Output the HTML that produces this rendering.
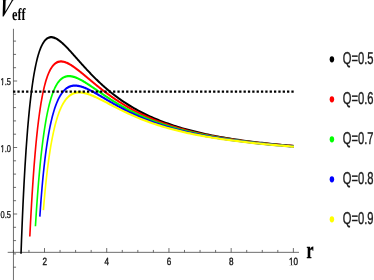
<!DOCTYPE html>
<html><head><meta charset="utf-8"><title>Veff</title>
<style>html,body{margin:0;padding:0;background:#fff;width:374px;height:280px;overflow:hidden;font-family:"Liberation Sans",sans-serif}</style>
</head><body>
<svg width="374" height="280" viewBox="0 0 374 280" style="position:absolute;left:0;top:0;will-change:transform">
<rect width="374" height="280" fill="#fff"/>
<g transform="scale(0.72 1)">
<g stroke="#3a3a3a" stroke-width="0.85" fill="none">
<path d="M18.68 28.8V280M10.69 252.35H415.28"/>
<path d="M18.68 267.20h3.61M18.68 253.90h3.61M18.68 240.60h3.61M18.68 227.30h3.61M18.68 214.00h5.14M18.68 200.70h3.61M18.68 187.40h3.61M18.68 174.10h3.61M18.68 160.80h3.61M18.68 147.50h5.14M18.68 134.20h3.61M18.68 120.90h3.61M18.68 107.60h3.61M18.68 94.30h3.61M18.68 81.00h5.14M18.68 67.70h3.61M18.68 54.40h3.61M18.68 41.10h3.61M18.60 252.35v-2.4M40.20 252.35v-2.4M61.81 252.35v-4.3M83.41 252.35v-2.4M105.01 252.35v-2.4M126.62 252.35v-2.4M148.22 252.35v-4.3M169.83 252.35v-2.4M191.43 252.35v-2.4M213.03 252.35v-2.4M234.64 252.35v-4.3M256.24 252.35v-2.4M277.85 252.35v-2.4M299.45 252.35v-2.4M321.06 252.35v-4.3M342.66 252.35v-2.4M364.26 252.35v-2.4M385.87 252.35v-2.4M407.47 252.35v-4.3"/>
</g>
<path d="M29.19 253.75 L29.86 240.52 L30.56 227.69 L31.25 215.74 L31.94 204.58 L32.64 194.15 L33.33 184.39 L34.03 175.24 L34.72 166.64 L35.42 158.57 L36.11 150.97 L36.81 143.82 L37.50 137.08 L38.19 130.73 L38.89 124.74 L39.58 119.09 L40.28 113.76 L40.97 108.72 L41.67 103.96 L42.36 99.47 L43.06 95.23 L43.75 91.23 L44.44 87.44 L45.14 83.88 L45.83 80.51 L46.53 77.33 L47.22 74.33 L47.92 71.51 L48.61 68.85 L49.31 66.34 L50.00 63.99 L50.69 61.77 L51.39 59.69 L52.08 57.74 L52.78 55.91 L53.47 54.20 L54.17 52.59 L54.86 51.10 L55.56 49.70 L56.25 48.40 L56.94 47.20 L57.64 46.08 L58.33 45.05 L59.03 44.09 L59.72 43.22 L60.42 42.41 L61.11 41.68 L61.81 41.01 L62.50 40.41 L63.19 39.87 L63.89 39.38 L64.58 38.95 L65.28 38.58 L65.97 38.25 L66.67 37.97 L67.36 37.74 L68.06 37.55 L68.75 37.41 L69.44 37.30 L70.14 37.23 L70.83 37.20 L71.53 37.20 L72.22 37.24 L72.92 37.30 L73.61 37.40 L74.31 37.52 L75.00 37.67 L75.69 37.85 L76.39 38.05 L77.08 38.28 L77.78 38.52 L78.47 38.79 L79.17 39.08 L79.86 39.38 L80.56 39.71 L81.25 40.05 L81.94 40.40 L82.64 40.78 L83.33 41.16 L84.03 41.56 L84.72 41.97 L85.42 42.40 L86.11 42.83 L86.81 43.28 L87.50 43.74 L88.19 44.20 L88.89 44.68 L89.58 45.16 L90.28 45.65 L90.97 46.15 L91.67 46.65 L92.36 47.16 L93.06 47.68 L93.75 48.20 L94.44 48.73 L95.14 49.26 L95.83 49.80 L96.53 50.34 L97.22 50.89 L97.92 51.43 L98.61 51.98 L99.31 52.54 L100.00 53.09 L100.69 53.65 L101.39 54.21 L102.08 54.77 L102.78 55.33 L103.47 55.89 L104.17 56.45 L104.86 57.02 L105.56 57.58 L106.25 58.15 L106.94 58.71 L107.64 59.28 L108.33 59.84 L109.03 60.41 L109.72 60.97 L110.42 61.53 L111.11 62.09 L111.81 62.65 L112.50 63.21 L113.19 63.77 L113.89 64.33 L114.58 64.89 L115.28 65.44 L115.97 65.99 L116.67 66.54 L117.36 67.09 L118.06 67.64 L118.75 68.18 L119.44 68.73 L120.14 69.27 L120.83 69.81 L121.53 70.34 L122.22 70.88 L122.92 71.41 L123.61 71.94 L124.31 72.46 L125.00 72.99 L125.69 73.51 L126.39 74.03 L127.08 74.55 L127.78 75.06 L128.47 75.57 L129.17 76.08 L129.86 76.58 L130.56 77.09 L131.25 77.59 L131.94 78.08 L132.64 78.58 L133.33 79.07 L134.03 79.56 L134.72 80.04 L135.42 80.53 L136.11 81.01 L136.81 81.48 L137.50 81.96 L138.19 82.43 L138.89 82.90 L139.58 83.36 L140.28 83.83 L140.97 84.29 L141.67 84.74 L142.36 85.20 L143.06 85.65 L143.75 86.09 L144.44 86.54 L145.14 86.98 L145.83 87.42 L146.53 87.86 L147.22 88.29 L147.92 88.72 L148.61 89.15 L149.31 89.57 L150.00 89.99 L150.69 90.41 L151.39 90.83 L152.08 91.24 L152.78 91.65 L153.47 92.05 L154.17 92.46 L154.86 92.86 L155.56 93.26 L156.25 93.65 L156.94 94.05 L157.64 94.44 L158.33 94.83 L159.03 95.21 L159.72 95.59 L160.42 95.97 L161.11 96.35 L161.81 96.72 L162.50 97.09 L163.19 97.46 L163.89 97.83 L164.58 98.19 L165.28 98.55 L165.97 98.91 L166.67 99.26 L169.44 100.66 L172.22 102.02 L175.00 103.33 L177.78 104.61 L180.56 105.85 L183.33 107.06 L186.11 108.23 L188.89 109.37 L191.67 110.47 L194.44 111.54 L197.22 112.58 L200.00 113.59 L202.78 114.58 L205.56 115.53 L208.33 116.46 L211.11 117.36 L213.89 118.24 L216.67 119.09 L219.44 119.91 L222.22 120.72 L225.00 121.50 L227.78 122.26 L230.56 123.00 L233.33 123.71 L236.11 124.41 L238.89 125.09 L241.67 125.75 L244.44 126.40 L247.22 127.02 L250.00 127.63 L252.78 128.23 L255.56 128.80 L258.33 129.37 L261.11 129.91 L263.89 130.45 L266.67 130.97 L269.44 131.47 L272.22 131.97 L275.00 132.45 L277.78 132.92 L280.56 133.37 L283.33 133.82 L286.11 134.25 L288.89 134.68 L291.67 135.09 L294.44 135.49 L297.22 135.89 L300.00 136.27 L302.78 136.64 L305.56 137.01 L308.33 137.36 L311.11 137.71 L313.89 138.05 L316.67 138.38 L319.44 138.71 L322.22 139.02 L325.00 139.33 L327.78 139.64 L330.56 139.93 L333.33 140.22 L336.11 140.50 L338.89 140.77 L341.67 141.04 L344.44 141.31 L347.22 141.56 L350.00 141.82 L352.78 142.06 L355.56 142.30 L358.33 142.54 L361.11 142.77 L363.89 142.99 L366.67 143.21 L369.44 143.43 L372.22 143.64 L375.00 143.85 L377.78 144.05 L380.56 144.25 L383.33 144.44 L386.11 144.63 L388.89 144.81 L391.67 145.00 L394.44 145.17 L397.22 145.35 L400.00 145.52 L402.78 145.69 L405.56 145.85 L408.33 146.01" stroke="#000000" stroke-width="2.25" fill="none" stroke-linejoin="round"/>
<path d="M41.42 236.52 L41.67 232.84 L42.36 222.99 L43.06 213.67 L43.75 204.83 L44.44 196.47 L45.14 188.55 L45.83 181.05 L46.53 173.95 L47.22 167.22 L47.92 160.86 L48.61 154.83 L49.31 149.12 L50.00 143.71 L50.69 138.59 L51.39 133.75 L52.08 129.16 L52.78 124.83 L53.47 120.72 L54.17 116.84 L54.86 113.17 L55.56 109.70 L56.25 106.42 L56.94 103.32 L57.64 100.39 L58.33 97.63 L59.03 95.03 L59.72 92.57 L60.42 90.25 L61.11 88.06 L61.81 86.01 L62.50 84.07 L63.19 82.25 L63.89 80.54 L64.58 78.94 L65.28 77.43 L65.97 76.02 L66.67 74.70 L67.36 73.46 L68.06 72.31 L68.75 71.24 L69.44 70.24 L70.14 69.31 L70.83 68.45 L71.53 67.65 L72.22 66.92 L72.92 66.24 L73.61 65.62 L74.31 65.05 L75.00 64.54 L75.69 64.07 L76.39 63.64 L77.08 63.27 L77.78 62.93 L78.47 62.63 L79.17 62.37 L79.86 62.15 L80.56 61.96 L81.25 61.81 L81.94 61.68 L82.64 61.59 L83.33 61.52 L84.03 61.48 L84.72 61.47 L85.42 61.48 L86.11 61.52 L86.81 61.58 L87.50 61.65 L88.19 61.75 L88.89 61.87 L89.58 62.01 L90.28 62.16 L90.97 62.33 L91.67 62.51 L92.36 62.71 L93.06 62.93 L93.75 63.16 L94.44 63.40 L95.14 63.65 L95.83 63.91 L96.53 64.19 L97.22 64.47 L97.92 64.77 L98.61 65.07 L99.31 65.38 L100.00 65.70 L100.69 66.03 L101.39 66.37 L102.08 66.71 L102.78 67.06 L103.47 67.41 L104.17 67.77 L104.86 68.14 L105.56 68.51 L106.25 68.89 L106.94 69.27 L107.64 69.65 L108.33 70.04 L109.03 70.43 L109.72 70.82 L110.42 71.22 L111.11 71.62 L111.81 72.02 L112.50 72.43 L113.19 72.84 L113.89 73.24 L114.58 73.65 L115.28 74.07 L115.97 74.48 L116.67 74.89 L117.36 75.31 L118.06 75.73 L118.75 76.14 L119.44 76.56 L120.14 76.98 L120.83 77.40 L121.53 77.81 L122.22 78.23 L122.92 78.65 L123.61 79.07 L124.31 79.49 L125.00 79.90 L125.69 80.32 L126.39 80.74 L127.08 81.15 L127.78 81.57 L128.47 81.98 L129.17 82.39 L129.86 82.81 L130.56 83.22 L131.25 83.63 L131.94 84.04 L132.64 84.45 L133.33 84.85 L134.03 85.26 L134.72 85.66 L135.42 86.06 L136.11 86.47 L136.81 86.87 L137.50 87.26 L138.19 87.66 L138.89 88.05 L139.58 88.45 L140.28 88.84 L140.97 89.23 L141.67 89.62 L142.36 90.00 L143.06 90.39 L143.75 90.77 L144.44 91.15 L145.14 91.53 L145.83 91.91 L146.53 92.29 L147.22 92.66 L147.92 93.03 L148.61 93.40 L149.31 93.77 L150.00 94.14 L150.69 94.50 L151.39 94.86 L152.08 95.22 L152.78 95.58 L153.47 95.94 L154.17 96.29 L154.86 96.64 L155.56 96.99 L156.25 97.34 L156.94 97.69 L157.64 98.03 L158.33 98.37 L159.03 98.71 L159.72 99.05 L160.42 99.39 L161.11 99.72 L161.81 100.05 L162.50 100.38 L163.19 100.71 L163.89 101.04 L164.58 101.36 L165.28 101.68 L165.97 102.01 L166.67 102.32 L169.44 103.58 L172.22 104.80 L175.00 105.99 L177.78 107.15 L180.56 108.28 L183.33 109.38 L186.11 110.45 L188.89 111.50 L191.67 112.51 L194.44 113.50 L197.22 114.47 L200.00 115.40 L202.78 116.32 L205.56 117.20 L208.33 118.07 L211.11 118.91 L213.89 119.73 L216.67 120.53 L219.44 121.30 L222.22 122.06 L225.00 122.79 L227.78 123.51 L230.56 124.21 L233.33 124.89 L236.11 125.55 L238.89 126.19 L241.67 126.82 L244.44 127.43 L247.22 128.02 L250.00 128.60 L252.78 129.17 L255.56 129.72 L258.33 130.25 L261.11 130.78 L263.89 131.29 L266.67 131.78 L269.44 132.27 L272.22 132.74 L275.00 133.20 L277.78 133.64 L280.56 134.08 L283.33 134.51 L286.11 134.92 L288.89 135.33 L291.67 135.72 L294.44 136.11 L297.22 136.48 L300.00 136.85 L302.78 137.21 L305.56 137.56 L308.33 137.90 L311.11 138.23 L313.89 138.56 L316.67 138.88 L319.44 139.19 L322.22 139.49 L325.00 139.78 L327.78 140.07 L330.56 140.35 L333.33 140.63 L336.11 140.90 L338.89 141.16 L341.67 141.42 L344.44 141.67 L347.22 141.91 L350.00 142.15 L352.78 142.39 L355.56 142.62 L358.33 142.84 L361.11 143.06 L363.89 143.27 L366.67 143.48 L369.44 143.68 L372.22 143.88 L375.00 144.08 L377.78 144.27 L380.56 144.46 L383.33 144.64 L386.11 144.82 L388.89 144.99 L391.67 145.17 L394.44 145.33 L397.22 145.50 L400.00 145.66 L402.78 145.81 L405.56 145.97 L408.33 146.12" stroke="#ff0000" stroke-width="2.25" fill="none" stroke-linejoin="round"/>
<path d="M49.22 226.24 L50.00 217.22 L50.69 209.61 L51.39 202.40 L52.08 195.56 L52.78 189.07 L53.47 182.91 L54.17 177.06 L54.86 171.51 L55.56 166.23 L56.25 161.22 L56.94 156.45 L57.64 151.93 L58.33 147.63 L59.03 143.54 L59.72 139.65 L60.42 135.96 L61.11 132.44 L61.81 129.11 L62.50 125.93 L63.19 122.92 L63.89 120.05 L64.58 117.33 L65.28 114.75 L65.97 112.30 L66.67 109.97 L67.36 107.76 L68.06 105.66 L68.75 103.67 L69.44 101.79 L70.14 100.00 L70.83 98.31 L71.53 96.71 L72.22 95.20 L72.92 93.77 L73.61 92.42 L74.31 91.14 L75.00 89.94 L75.69 88.80 L76.39 87.74 L77.08 86.74 L77.78 85.79 L78.47 84.91 L79.17 84.08 L79.86 83.31 L80.56 82.59 L81.25 81.91 L81.94 81.29 L82.64 80.71 L83.33 80.17 L84.03 79.67 L84.72 79.21 L85.42 78.80 L86.11 78.41 L86.81 78.07 L87.50 77.75 L88.19 77.47 L88.89 77.22 L89.58 76.99 L90.28 76.80 L90.97 76.63 L91.67 76.49 L92.36 76.37 L93.06 76.28 L93.75 76.21 L94.44 76.16 L95.14 76.13 L95.83 76.12 L96.53 76.13 L97.22 76.16 L97.92 76.20 L98.61 76.26 L99.31 76.34 L100.00 76.43 L100.69 76.54 L101.39 76.66 L102.08 76.79 L102.78 76.94 L103.47 77.09 L104.17 77.26 L104.86 77.44 L105.56 77.63 L106.25 77.83 L106.94 78.04 L107.64 78.26 L108.33 78.48 L109.03 78.72 L109.72 78.96 L110.42 79.21 L111.11 79.46 L111.81 79.72 L112.50 79.99 L113.19 80.27 L113.89 80.55 L114.58 80.83 L115.28 81.12 L115.97 81.41 L116.67 81.71 L117.36 82.01 L118.06 82.32 L118.75 82.63 L119.44 82.94 L120.14 83.26 L120.83 83.58 L121.53 83.90 L122.22 84.22 L122.92 84.55 L123.61 84.88 L124.31 85.21 L125.00 85.54 L125.69 85.88 L126.39 86.21 L127.08 86.55 L127.78 86.89 L128.47 87.23 L129.17 87.57 L129.86 87.91 L130.56 88.25 L131.25 88.59 L131.94 88.93 L132.64 89.27 L133.33 89.62 L134.03 89.96 L134.72 90.30 L135.42 90.65 L136.11 90.99 L136.81 91.33 L137.50 91.67 L138.19 92.02 L138.89 92.36 L139.58 92.70 L140.28 93.04 L140.97 93.38 L141.67 93.72 L142.36 94.06 L143.06 94.39 L143.75 94.73 L144.44 95.07 L145.14 95.40 L145.83 95.74 L146.53 96.07 L147.22 96.40 L147.92 96.73 L148.61 97.06 L149.31 97.39 L150.00 97.72 L150.69 98.04 L151.39 98.37 L152.08 98.69 L152.78 99.01 L153.47 99.33 L154.17 99.65 L154.86 99.97 L155.56 100.29 L156.25 100.60 L156.94 100.91 L157.64 101.23 L158.33 101.54 L159.03 101.84 L159.72 102.15 L160.42 102.46 L161.11 102.76 L161.81 103.06 L162.50 103.37 L163.19 103.66 L163.89 103.96 L164.58 104.26 L165.28 104.55 L165.97 104.85 L166.67 105.14 L169.44 106.29 L172.22 107.41 L175.00 108.51 L177.78 109.58 L180.56 110.62 L183.33 111.64 L186.11 112.64 L188.89 113.60 L191.67 114.55 L194.44 115.47 L197.22 116.36 L200.00 117.23 L202.78 118.08 L205.56 118.91 L208.33 119.72 L211.11 120.50 L213.89 121.26 L216.67 122.01 L219.44 122.73 L222.22 123.43 L225.00 124.12 L227.78 124.79 L230.56 125.44 L233.33 126.07 L236.11 126.69 L238.89 127.29 L241.67 127.88 L244.44 128.45 L247.22 129.00 L250.00 129.55 L252.78 130.07 L255.56 130.59 L258.33 131.09 L261.11 131.58 L263.89 132.06 L266.67 132.52 L269.44 132.98 L272.22 133.42 L275.00 133.85 L277.78 134.27 L280.56 134.68 L283.33 135.08 L286.11 135.48 L288.89 135.86 L291.67 136.23 L294.44 136.60 L297.22 136.95 L300.00 137.30 L302.78 137.64 L305.56 137.97 L308.33 138.30 L311.11 138.62 L313.89 138.93 L316.67 139.23 L319.44 139.53 L322.22 139.82 L325.00 140.10 L327.78 140.38 L330.56 140.65 L333.33 140.92 L336.11 141.18 L338.89 141.43 L341.67 141.68 L344.44 141.93 L347.22 142.17 L350.00 142.40 L352.78 142.63 L355.56 142.86 L358.33 143.08 L361.11 143.30 L363.89 143.51 L366.67 143.72 L369.44 143.92 L372.22 144.12 L375.00 144.31 L377.78 144.51 L380.56 144.70 L383.33 144.88 L386.11 145.06 L388.89 145.24 L391.67 145.42 L394.44 145.59 L397.22 145.76 L400.00 145.92 L402.78 146.08 L405.56 146.24 L408.33 146.40" stroke="#00ff00" stroke-width="2.25" fill="none" stroke-linejoin="round"/>
<path d="M55.33 216.61 L55.56 214.22 L56.25 207.07 L56.94 200.36 L57.64 194.04 L58.33 188.09 L59.03 182.48 L59.72 177.19 L60.42 172.19 L61.11 167.47 L61.81 163.00 L62.50 158.78 L63.19 154.77 L63.89 150.98 L64.58 147.38 L65.28 143.96 L65.97 140.72 L66.67 137.65 L67.36 134.72 L68.06 131.95 L68.75 129.31 L69.44 126.80 L70.14 124.41 L70.83 122.14 L71.53 119.99 L72.22 117.93 L72.92 115.98 L73.61 114.13 L74.31 112.36 L75.00 110.68 L75.69 109.09 L76.39 107.57 L77.08 106.13 L77.78 104.76 L78.47 103.46 L79.17 102.23 L79.86 101.06 L80.56 99.95 L81.25 98.90 L81.94 97.91 L82.64 96.96 L83.33 96.07 L84.03 95.23 L84.72 94.44 L85.42 93.69 L86.11 92.99 L86.81 92.33 L87.50 91.71 L88.19 91.12 L88.89 90.58 L89.58 90.07 L90.28 89.59 L90.97 89.15 L91.67 88.74 L92.36 88.36 L93.06 88.01 L93.75 87.68 L94.44 87.39 L95.14 87.12 L95.83 86.88 L96.53 86.66 L97.22 86.46 L97.92 86.29 L98.61 86.13 L99.31 86.00 L100.00 85.89 L100.69 85.80 L101.39 85.72 L102.08 85.67 L102.78 85.63 L103.47 85.60 L104.17 85.60 L104.86 85.60 L105.56 85.63 L106.25 85.66 L106.94 85.71 L107.64 85.77 L108.33 85.85 L109.03 85.93 L109.72 86.03 L110.42 86.14 L111.11 86.25 L111.81 86.38 L112.50 86.52 L113.19 86.67 L113.89 86.82 L114.58 86.98 L115.28 87.16 L115.97 87.33 L116.67 87.52 L117.36 87.71 L118.06 87.91 L118.75 88.12 L119.44 88.33 L120.14 88.55 L120.83 88.77 L121.53 89.00 L122.22 89.23 L122.92 89.47 L123.61 89.71 L124.31 89.96 L125.00 90.21 L125.69 90.46 L126.39 90.72 L127.08 90.98 L127.78 91.25 L128.47 91.51 L129.17 91.78 L129.86 92.05 L130.56 92.33 L131.25 92.61 L131.94 92.88 L132.64 93.17 L133.33 93.45 L134.03 93.73 L134.72 94.02 L135.42 94.31 L136.11 94.59 L136.81 94.88 L137.50 95.17 L138.19 95.47 L138.89 95.76 L139.58 96.05 L140.28 96.35 L140.97 96.64 L141.67 96.93 L142.36 97.23 L143.06 97.53 L143.75 97.82 L144.44 98.12 L145.14 98.41 L145.83 98.71 L146.53 99.00 L147.22 99.30 L147.92 99.59 L148.61 99.89 L149.31 100.18 L150.00 100.48 L150.69 100.77 L151.39 101.06 L152.08 101.36 L152.78 101.65 L153.47 101.94 L154.17 102.23 L154.86 102.52 L155.56 102.81 L156.25 103.09 L156.94 103.38 L157.64 103.67 L158.33 103.95 L159.03 104.24 L159.72 104.52 L160.42 104.80 L161.11 105.08 L161.81 105.36 L162.50 105.64 L163.19 105.92 L163.89 106.20 L164.58 106.47 L165.28 106.74 L165.97 107.02 L166.67 107.29 L169.44 108.36 L172.22 109.42 L175.00 110.45 L177.78 111.46 L180.56 112.44 L183.33 113.41 L186.11 114.35 L188.89 115.26 L191.67 116.16 L194.44 117.03 L197.22 117.88 L200.00 118.71 L202.78 119.52 L205.56 120.31 L208.33 121.07 L211.11 121.82 L213.89 122.55 L216.67 123.25 L219.44 123.94 L222.22 124.61 L225.00 125.26 L227.78 125.90 L230.56 126.51 L233.33 127.11 L236.11 127.70 L238.89 128.27 L241.67 128.82 L244.44 129.37 L247.22 129.89 L250.00 130.40 L252.78 130.90 L255.56 131.39 L258.33 131.86 L261.11 132.33 L263.89 132.78 L266.67 133.22 L269.44 133.65 L272.22 134.06 L275.00 134.47 L277.78 134.87 L280.56 135.26 L283.33 135.64 L286.11 136.01 L288.89 136.37 L291.67 136.72 L294.44 137.07 L297.22 137.41 L300.00 137.74 L302.78 138.06 L305.56 138.37 L308.33 138.68 L311.11 138.98 L313.89 139.28 L316.67 139.57 L319.44 139.85 L322.22 140.13 L325.00 140.40 L327.78 140.67 L330.56 140.93 L333.33 141.18 L336.11 141.43 L338.89 141.68 L341.67 141.92 L344.44 142.16 L347.22 142.39 L350.00 142.62 L352.78 142.84 L355.56 143.06 L358.33 143.27 L361.11 143.49 L363.89 143.69 L366.67 143.90 L369.44 144.10 L372.22 144.30 L375.00 144.49 L377.78 144.68 L380.56 144.87 L383.33 145.06 L386.11 145.24 L388.89 145.42 L391.67 145.59 L394.44 145.77 L397.22 145.94 L400.00 146.11 L402.78 146.27 L405.56 146.44 L408.33 146.60" stroke="#0000ff" stroke-width="2.25" fill="none" stroke-linejoin="round"/>
<path d="M60.28 210.20 L60.42 208.96 L61.11 202.99 L61.81 197.33 L62.50 191.97 L63.19 186.87 L63.89 182.03 L64.58 177.43 L65.28 173.06 L65.97 168.90 L66.67 164.95 L67.36 161.18 L68.06 157.59 L68.75 154.18 L69.44 150.92 L70.14 147.82 L70.83 144.86 L71.53 142.05 L72.22 139.36 L72.92 136.80 L73.61 134.35 L74.31 132.02 L75.00 129.80 L75.69 127.68 L76.39 125.66 L77.08 123.74 L77.78 121.90 L78.47 120.15 L79.17 118.49 L79.86 116.90 L80.56 115.39 L81.25 113.94 L81.94 112.57 L82.64 111.27 L83.33 110.03 L84.03 108.85 L84.72 107.73 L85.42 106.66 L86.11 105.65 L86.81 104.70 L87.50 103.79 L88.19 102.93 L88.89 102.12 L89.58 101.35 L90.28 100.62 L90.97 99.93 L91.67 99.29 L92.36 98.68 L93.06 98.11 L93.75 97.57 L94.44 97.07 L95.14 96.60 L95.83 96.16 L96.53 95.75 L97.22 95.37 L97.92 95.02 L98.61 94.69 L99.31 94.39 L100.00 94.12 L100.69 93.87 L101.39 93.64 L102.08 93.43 L102.78 93.25 L103.47 93.08 L104.17 92.94 L104.86 92.81 L105.56 92.70 L106.25 92.61 L106.94 92.54 L107.64 92.48 L108.33 92.43 L109.03 92.41 L109.72 92.39 L110.42 92.39 L111.11 92.40 L111.81 92.43 L112.50 92.47 L113.19 92.51 L113.89 92.57 L114.58 92.65 L115.28 92.73 L115.97 92.82 L116.67 92.92 L117.36 93.03 L118.06 93.14 L118.75 93.27 L119.44 93.40 L120.14 93.54 L120.83 93.69 L121.53 93.85 L122.22 94.01 L122.92 94.18 L123.61 94.35 L124.31 94.53 L125.00 94.71 L125.69 94.90 L126.39 95.10 L127.08 95.30 L127.78 95.50 L128.47 95.71 L129.17 95.92 L129.86 96.14 L130.56 96.36 L131.25 96.58 L131.94 96.81 L132.64 97.04 L133.33 97.27 L134.03 97.50 L134.72 97.74 L135.42 97.98 L136.11 98.22 L136.81 98.47 L137.50 98.71 L138.19 98.96 L138.89 99.21 L139.58 99.46 L140.28 99.71 L140.97 99.97 L141.67 100.22 L142.36 100.48 L143.06 100.73 L143.75 100.99 L144.44 101.25 L145.14 101.51 L145.83 101.77 L146.53 102.03 L147.22 102.29 L147.92 102.55 L148.61 102.81 L149.31 103.07 L150.00 103.33 L150.69 103.60 L151.39 103.86 L152.08 104.12 L152.78 104.38 L153.47 104.64 L154.17 104.90 L154.86 105.16 L155.56 105.42 L156.25 105.68 L156.94 105.94 L157.64 106.20 L158.33 106.46 L159.03 106.72 L159.72 106.98 L160.42 107.23 L161.11 107.49 L161.81 107.74 L162.50 108.00 L163.19 108.25 L163.89 108.50 L164.58 108.76 L165.28 109.01 L165.97 109.26 L166.67 109.51 L169.44 110.49 L172.22 111.47 L175.00 112.42 L177.78 113.35 L180.56 114.27 L183.33 115.17 L186.11 116.05 L188.89 116.91 L191.67 117.74 L194.44 118.56 L197.22 119.36 L200.00 120.14 L202.78 120.90 L205.56 121.64 L208.33 122.36 L211.11 123.07 L213.89 123.75 L216.67 124.42 L219.44 125.07 L222.22 125.70 L225.00 126.32 L227.78 126.92 L230.56 127.50 L233.33 128.07 L236.11 128.63 L238.89 129.17 L241.67 129.70 L244.44 130.21 L247.22 130.71 L250.00 131.20 L252.78 131.67 L255.56 132.13 L258.33 132.59 L261.11 133.03 L263.89 133.45 L266.67 133.87 L269.44 134.28 L272.22 134.68 L275.00 135.07 L277.78 135.45 L280.56 135.82 L283.33 136.18 L286.11 136.53 L288.89 136.88 L291.67 137.22 L294.44 137.55 L297.22 137.87 L300.00 138.18 L302.78 138.49 L305.56 138.79 L308.33 139.09 L311.11 139.38 L313.89 139.66 L316.67 139.94 L319.44 140.21 L322.22 140.47 L325.00 140.73 L327.78 140.99 L330.56 141.24 L333.33 141.48 L336.11 141.72 L338.89 141.96 L341.67 142.19 L344.44 142.42 L347.22 142.64 L350.00 142.86 L352.78 143.08 L355.56 143.29 L358.33 143.49 L361.11 143.70 L363.89 143.90 L366.67 144.10 L369.44 144.29 L372.22 144.48 L375.00 144.67 L377.78 144.85 L380.56 145.03 L383.33 145.21 L386.11 145.39 L388.89 145.56 L391.67 145.73 L394.44 145.90 L397.22 146.07 L400.00 146.23 L402.78 146.39 L405.56 146.55 L408.33 146.71" stroke="#ffff00" stroke-width="2.25" fill="none" stroke-linejoin="round"/>
<path d="M18.12 91.6H408.06" stroke="#000" stroke-width="2.3" stroke-dasharray="3.19 2.85" fill="none"/>
<circle cx="460.97" cy="59.3" r="3.13" fill="#000000"/>
<circle cx="460.97" cy="99.3" r="3.13" fill="#ff0000"/>
<circle cx="460.97" cy="139.3" r="3.13" fill="#00ff00"/>
<circle cx="460.97" cy="179.3" r="3.13" fill="#0000ff"/>
<circle cx="460.97" cy="219.3" r="3.13" fill="#ffff00"/>
</g>
<text text-rendering="geometricPrecision" transform="translate(10.9 218.1) scale(0.7600 1.0000)" font-family="Liberation Sans" font-size="9.9" font-weight="normal" font-style="normal" text-anchor="end" fill="#1a1a1a" stroke="#1a1a1a" stroke-width="0.350">0.5</text>
<text text-rendering="geometricPrecision" transform="translate(10.9 151.6) scale(0.7600 1.0000)" font-family="Liberation Sans" font-size="9.9" font-weight="normal" font-style="normal" text-anchor="end" fill="#1a1a1a" stroke="#1a1a1a" stroke-width="0.350">1.0</text>
<text text-rendering="geometricPrecision" transform="translate(10.9 85.1) scale(0.7600 1.0000)" font-family="Liberation Sans" font-size="9.9" font-weight="normal" font-style="normal" text-anchor="end" fill="#1a1a1a" stroke="#1a1a1a" stroke-width="0.350">1.5</text>
<text text-rendering="geometricPrecision" transform="translate(44.65 264.8) scale(0.7800 1.0000)" font-family="Liberation Sans" font-size="10.4" font-weight="normal" font-style="normal" text-anchor="middle" fill="#1a1a1a" stroke="#1a1a1a" stroke-width="0.400">2</text>
<text text-rendering="geometricPrecision" transform="translate(106.87 264.8) scale(0.7800 1.0000)" font-family="Liberation Sans" font-size="10.4" font-weight="normal" font-style="normal" text-anchor="middle" fill="#1a1a1a" stroke="#1a1a1a" stroke-width="0.400">4</text>
<text text-rendering="geometricPrecision" transform="translate(169.09 264.8) scale(0.7800 1.0000)" font-family="Liberation Sans" font-size="10.4" font-weight="normal" font-style="normal" text-anchor="middle" fill="#1a1a1a" stroke="#1a1a1a" stroke-width="0.400">6</text>
<text text-rendering="geometricPrecision" transform="translate(231.31 264.8) scale(0.7800 1.0000)" font-family="Liberation Sans" font-size="10.4" font-weight="normal" font-style="normal" text-anchor="middle" fill="#1a1a1a" stroke="#1a1a1a" stroke-width="0.400">8</text>
<text text-rendering="geometricPrecision" transform="translate(293.53 264.8) scale(0.7800 1.0000)" font-family="Liberation Sans" font-size="10.4" font-weight="normal" font-style="normal" text-anchor="middle" fill="#1a1a1a" stroke="#1a1a1a" stroke-width="0.400">10</text>
<path d="M0 83.85h1.95v2.3h-1.95zM3.05 83.85h1.9v2.3h-1.9z" fill="#fff"/>
<path d="M0 150.85h1.95v2.3h-1.95zM3.05 150.85h1.9v2.3h-1.9z" fill="#fff"/>
<path d="M288.9 263.85h2.05v1.3h-2.05zM292.05 263.85h1.5v1.3h-1.5z" fill="#fff"/>
<text text-rendering="geometricPrecision" transform="translate(306.5 257.7) scale(0.6600 1.0000)" font-family="Liberation Serif" font-size="24" font-weight="bold" font-style="normal" text-anchor="start" fill="#000" stroke="#000" stroke-width="0.300">r</text>
<text text-rendering="geometricPrecision" transform="matrix(0.70 0 -0.193 1 -1.95 16.4)" font-family="Liberation Serif" font-size="26" font-weight="bold" font-style="italic" fill="#000">V</text>
<text text-rendering="geometricPrecision" transform="translate(12.0 19.6) scale(0.7200 1.0000)" font-family="Liberation Serif" font-size="17" font-weight="bold" font-style="normal" text-anchor="start" fill="#000">eff</text>
<text text-rendering="geometricPrecision" transform="translate(342.7 63.699999999999996) scale(0.6500 1.0000)" font-family="Liberation Sans" font-size="17.2" font-weight="normal" font-style="normal" text-anchor="start" fill="#1a1a1a" stroke="#1a1a1a" stroke-width="0.400">Q=0.5</text>
<text text-rendering="geometricPrecision" transform="translate(342.7 103.7) scale(0.6500 1.0000)" font-family="Liberation Sans" font-size="17.2" font-weight="normal" font-style="normal" text-anchor="start" fill="#1a1a1a" stroke="#1a1a1a" stroke-width="0.400">Q=0.6</text>
<text text-rendering="geometricPrecision" transform="translate(342.7 143.70000000000002) scale(0.6500 1.0000)" font-family="Liberation Sans" font-size="17.2" font-weight="normal" font-style="normal" text-anchor="start" fill="#1a1a1a" stroke="#1a1a1a" stroke-width="0.400">Q=0.7</text>
<text text-rendering="geometricPrecision" transform="translate(342.7 183.70000000000002) scale(0.6500 1.0000)" font-family="Liberation Sans" font-size="17.2" font-weight="normal" font-style="normal" text-anchor="start" fill="#1a1a1a" stroke="#1a1a1a" stroke-width="0.400">Q=0.8</text>
<text text-rendering="geometricPrecision" transform="translate(342.7 223.70000000000002) scale(0.6500 1.0000)" font-family="Liberation Sans" font-size="17.2" font-weight="normal" font-style="normal" text-anchor="start" fill="#1a1a1a" stroke="#1a1a1a" stroke-width="0.400">Q=0.9</text>
</svg>
</body></html>
